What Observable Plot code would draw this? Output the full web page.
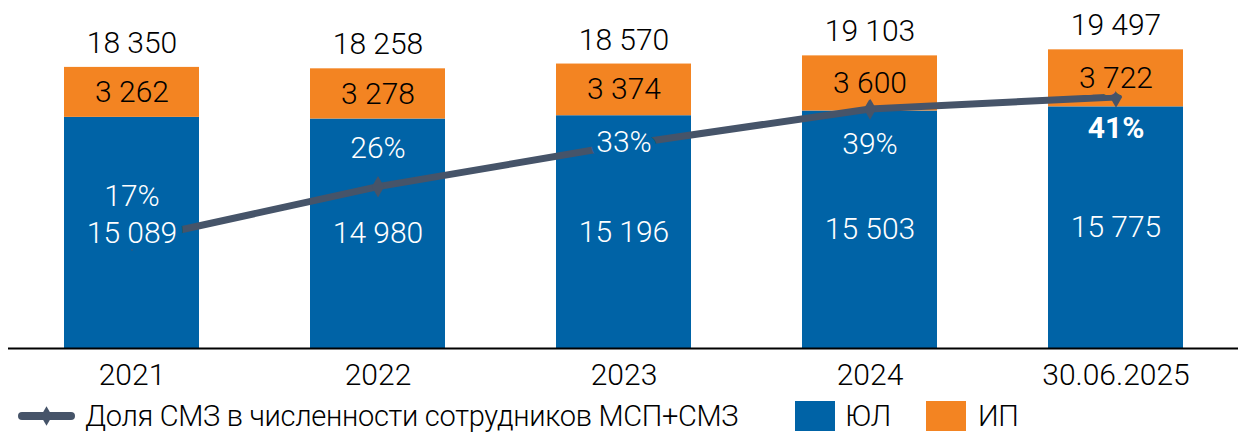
<!DOCTYPE html>
<html>
<head>
<meta charset="utf-8">
<script src="https://cdn.jsdelivr.net/npm/d3@7"></script>
<script src="https://cdn.jsdelivr.net/npm/@observablehq/plot@0.6"></script>
<style>
  html, body { margin: 0; padding: 0; background: #fff; }
  body { width: 1238px; font-family: Roboto, "Noto Sans", sans-serif; font-weight: 300; }
  #legend { position: relative; width: 1238px; height: 37px; font-size: 29px; letter-spacing: -0.3px; color: #000; }
  #legend .item { position: absolute; top: 21px; transform: translateY(-50%); display: flex; align-items: center; white-space: nowrap; }
  #legend .sw { display: inline-block; width: 40px; height: 30px; }
</style>
</head>
<body>
<div id="chart"></div>
<div id="legend"></div>
<script>
// ---- data ----
const years = ["2021", "2022", "2023", "2024", "30.06.2025"];
const ulValues = [15089, 14980, 15196, 15503, 15775];   // ЮЛ
const ipValues = [3262, 3278, 3374, 3600, 3722];        // ИП
const totalValues = [18350, 18258, 18570, 19103, 19497];
const smzShare = [17, 26, 33, 39, 41];                  // %
const seriesNames = ["ЮЛ", "ИП"];
const lineName = "Доля СМЗ в численности сотрудников МСП+СМЗ";

// ---- styling ----
const blue = "#0063A6", orange = "#F38422", lineColor = "#465469";
const W = 1238, H = 395, mTop = 11, mBottom = 47;
const yMax = 22000;
const pxPerUnit = (H - mTop - mBottom) / yMax;
// secondary (percent) axis aligned to primary
const y2 = d3.scaleLinear().domain([-1.07, 55.3]).range([0, yMax]);
const fmt = d3.formatLocale({decimal: ",", thousands: " ", grouping: [3], currency: ["", ""]}).format(",");

const table = [];
years.forEach((yr, i) => {
  table.push({year: yr, type: seriesNames[0], value: ulValues[i]});
  table.push({year: yr, type: seriesNames[1], value: ipValues[i]});
});
const ulLabels = years.map((yr, i) => ({year: yr, y: ulValues[i] / 2, text: fmt(ulValues[i])}));
const ipLabels = years.map((yr, i) => ({year: yr, y: ulValues[i] + ipValues[i] / 2, text: fmt(ipValues[i])}));
const totLabels = years.map((yr, i) => ({year: yr, y: ulValues[i] + ipValues[i], text: fmt(totalValues[i])}));
const linePts = years.map((yr, i) => ({year: yr, y: y2(smzShare[i]), pct: smzShare[i]}));
// manual label placement (pixels, + = down) relative to the line point
const pctShiftPx = [-44, -38, -2, 35, 31];
const pctLabels = linePts.map((d, i) => ({year: d.year, y: d.y - pctShiftPx[i] / pxPerUnit, text: d.pct + "%", bold: i === years.length - 1}));

const plot = Plot.plot({
  width: W, height: H,
  marginTop: mTop, marginBottom: mBottom, marginLeft: 8, marginRight: -1,
  style: {fontFamily: "Roboto, 'Noto Sans', sans-serif", fontSize: "30px", fontWeight: 300, color: "#000", background: "#fff"},
  x: {domain: years, paddingInner: 0.45, paddingOuter: 0.225, tickSize: 0, tickPadding: 15, label: null},
  y: {domain: [0, yMax], axis: null},
  color: {domain: seriesNames, range: [blue, orange]},
  marks: [
    Plot.barY(table, {x: "year", y: "value", fill: "type"}),
    Plot.ruleY([0], {stroke: "#000", strokeWidth: 2}),
    Plot.line(linePts, {x: "year", y: "y", stroke: lineColor, strokeWidth: 7, strokeLinejoin: "round"}),
    Plot.dot(linePts, {x: "year", y: "y", symbol: "diamond", r: 6.5, fill: lineColor, stroke: null}),
    Plot.text(ulLabels, {x: "year", y: "y", text: "text", fill: "#fff", stroke: blue, strokeWidth: 14, strokeLinejoin: "round", paintOrder: "stroke"}),
    Plot.text(ipLabels, {x: "year", y: "y", text: "text", fill: "#000", stroke: orange, strokeWidth: 14, strokeLinejoin: "round", paintOrder: "stroke"}),
    Plot.text(totLabels, {x: "year", y: "y", text: "text", fill: "#000", dy: -24}),
    Plot.text(pctLabels.filter(d => !d.bold), {x: "year", y: "y", text: "text", fill: "#fff", stroke: blue, strokeWidth: 12, strokeLinejoin: "round", paintOrder: "stroke"}),
    Plot.text(pctLabels.filter(d => d.bold), {x: "year", y: "y", text: "text", fill: "#fff", fontWeight: "bold"})
  ]
});
document.getElementById("chart").appendChild(plot);

// ---- legend ----
const legend = d3.select("#legend");
const it1 = legend.append("div").attr("class", "item").style("left", "18px");
const sw = it1.append("svg").attr("width", 57).attr("height", 22).style("margin-right", "10px");
sw.append("line").attr("x1", 4).attr("x2", 53).attr("y1", 11).attr("y2", 11)
  .attr("stroke", lineColor).attr("stroke-width", 8).attr("stroke-linecap", "round");
sw.append("path").attr("transform", "translate(28.5,11)")
  .attr("d", d3.symbol(d3.symbolDiamond, 110)()).attr("fill", lineColor);
it1.append("span").text(lineName);

const it2 = legend.append("div").attr("class", "item").style("left", "795px");
it2.append("span").attr("class", "sw").style("background", blue).style("margin-right", "10px");
it2.append("span").text(seriesNames[0]);

const it3 = legend.append("div").attr("class", "item").style("left", "926px");
it3.append("span").attr("class", "sw").style("background", orange).style("margin-right", "12px");
it3.append("span").text(seriesNames[1]);
</script>
</body>
</html>
